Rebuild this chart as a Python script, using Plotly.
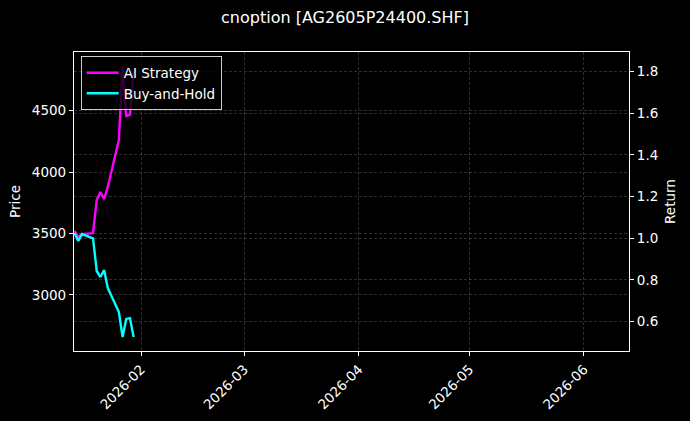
import plotly.graph_objects as go

dates = ["2026-01-14", "2026-01-15", "2026-01-16", "2026-01-19", "2026-01-20",
         "2026-01-21", "2026-01-22", "2026-01-23", "2026-01-26", "2026-01-27",
         "2026-01-28", "2026-01-29", "2026-01-30"]
ai_strategy = [1.035, 1.006, 1.020, 1.025, 1.184, 1.222, 1.189, 1.246, 1.472,
               1.827, 1.587, 1.592, 1.800]
buy_and_hold = [1.025, 0.987, 1.020, 1.000, 0.843, 0.814, 0.848, 0.761, 0.646,
                0.526, 0.613, 0.617, 0.526]
price = [3500, 3450, 3480, 3700, 4100, 3944, 4107, 3765, 3114, 2700, 3041,
         3041, 2860]

title = "cnoption [AG2605P24400.SHF]"
font = "DejaVu Sans"
grid = "rgba(128,128,128,0.35)"

fig = go.Figure()
fig.add_trace(go.Scatter(x=dates, y=price, mode="lines", name="Price",
                         showlegend=False,
                         line=dict(color="rgba(120,0,0,0.25)", width=1, dash="dot"),
                         yaxis="y"))
fig.add_trace(go.Scatter(x=dates, y=ai_strategy, mode="lines", name="AI Strategy",
                         line=dict(color="#FF00FF", width=2.4), yaxis="y2"))
fig.add_trace(go.Scatter(x=dates, y=buy_and_hold, mode="lines", name="Buy-and-Hold",
                         line=dict(color="#00FFFF", width=2.4), yaxis="y2"))

axis_common = dict(showline=True, linecolor="white", linewidth=1.2,
                   ticks="outside", tickcolor="white", ticklen=4, tickwidth=1,
                   tickfont=dict(color="white", size=13.5, family=font),
                   showgrid=True, gridcolor=grid, gridwidth=0.7, griddash="3px,2px",
                   zeroline=False, automargin=False)

fig.update_layout(
    width=690, height=421,
    paper_bgcolor="black", plot_bgcolor="black",
    margin=dict(l=74, r=61, t=52, b=70, autoexpand=False),
    title=dict(text=title, x=0.5, xanchor="center", y=0.972, yanchor="top",
               font=dict(color="white", size=16, family=font)),
    font=dict(family=font, color="white"),
    xaxis=dict(axis_common, type="date", range=["2026-01-13 20:10", "2026-06-13 05:00"],
               tick0="2026-02-01", dtick="M1", tickformat="%Y-%m", tickangle=-45,
               mirror=True),
    yaxis=dict(axis_common, range=[2544, 4978], tickvals=[3000, 3500, 4000, 4500],
               title=dict(text="Price", font=dict(color="white", size=13.5, family=font),
                          standoff=8),
               mirror=True),
    yaxis2=dict(axis_common, overlaying="y", side="right", range=[0.459, 1.894],
                tickvals=[0.6, 0.8, 1.0, 1.2, 1.4, 1.6, 1.8], tickformat=".1f",
                title=dict(text="Return", font=dict(color="white", size=13.5, family=font),
                           standoff=8)),
    legend=dict(x=0.012, y=0.985, xanchor="left", yanchor="top",
                bgcolor="rgba(0,0,0,0.8)", bordercolor="#cccccc", borderwidth=1,
                font=dict(color="white", size=13.5, family=font),
                tracegroupgap=0, itemwidth=32),
    showlegend=True,
)

fig.write_html("out.html", config={"displayModeBar": False},
               post_script="document.body.style.margin='0';document.body.style.background='black';")
